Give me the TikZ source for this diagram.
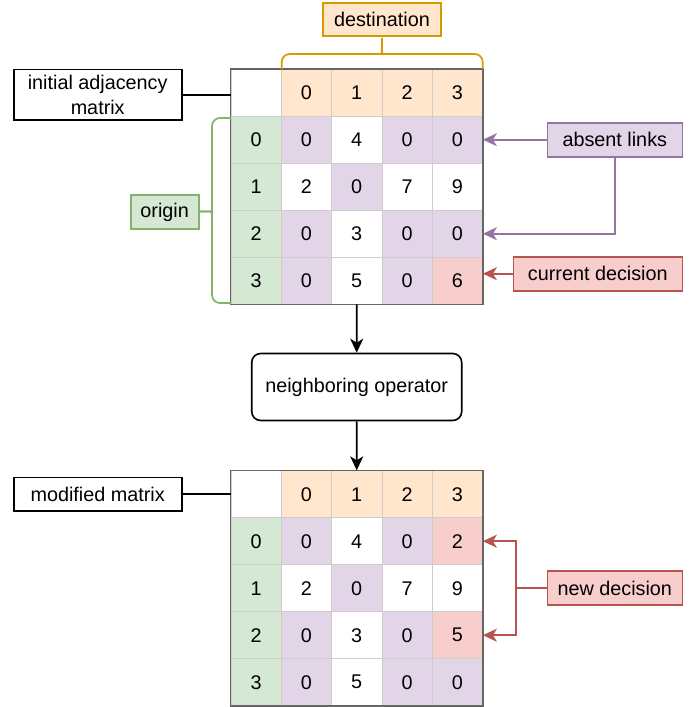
\documentclass[tikz,border=0pt]{standalone}
\usepackage{fontspec}
\setmainfont{Liberation Sans}
\usetikzlibrary{arrows.meta}
\definecolor{oF}{HTML}{FFE6CC}\definecolor{oD}{HTML}{D79B00}
\definecolor{gF}{HTML}{D5E8D4}\definecolor{gD}{HTML}{82B366}
\definecolor{pF}{HTML}{E1D5E7}\definecolor{pD}{HTML}{9673A6}
\definecolor{rF}{HTML}{F8CECC}\definecolor{rD}{HTML}{B85450}
\definecolor{cellline}{HTML}{D0CCCC}
\definecolor{outerline}{HTML}{666666}
\newcommand\mrow[4]{%
  \foreach \f/\t [count=\c from 0] in {#4} {
    \node[cell, fill=\f] (#1-#2-\c) at ({231+50.3*(\c+0.5)}, #3) {\t};
  }}
\begin{document}
\begin{tikzpicture}[x=1pt,y=-1pt,
  font=\fontsize{19.8}{24.5}\selectfont,
  cell/.style={draw=cellline, line width=0.8pt, minimum width=50.3pt, minimum height=46.9pt, inner sep=0pt, anchor=center},
  outer/.style={draw=outerline, line width=1.5pt},
  lbox/.style={draw, line width=1.6pt, inner sep=0pt, align=center},
  conn/.style={line width=1.6pt},
  tip/.style={-{Stealth[length=14pt,width=13pt,inset=4pt]}},
  brace/.style={line width=1.7pt, rounded corners=8pt}]
\useasboundingbox (0,0) rectangle (700,707);
% top matrix
\mrow{t}{0}{93.0}{white/{},oF/0,oF/1,oF/2,oF/3}
\mrow{t}{1}{139.9}{gF/0,pF/0,white/4,pF/0,pF/0}
\mrow{t}{2}{186.8}{gF/1,white/2,pF/0,white/7,white/9}
\mrow{t}{3}{233.7}{gF/2,pF/0,white/3,pF/0,pF/0}
\mrow{t}{4}{280.6}{gF/3,pF/0,white/5,pF/0,rF/6}
\draw[outer] (t-0-0.north west) rectangle (t-4-4.south east);
% bottom matrix
\mrow{b}{0}{494.2}{white/{},oF/0,oF/1,oF/2,oF/3}
\mrow{b}{1}{541.2}{gF/0,pF/0,white/4,pF/0,rF/2}
\mrow{b}{2}{588.2}{gF/1,white/2,pF/0,white/7,white/9}
\mrow{b}{3}{635.2}{gF/2,pF/0,white/3,pF/0,rF/5}
\mrow{b}{4}{682.2}{gF/3,pF/0,white/5,pF/0,pF/0}
\draw[outer] (b-0-0.north west) rectangle (b-4-4.south east);
% labels
\node[lbox, draw=oD, fill=oF, minimum width=118pt, minimum height=33pt] (dest) at (381.9,19.3) {destination};
\node[lbox, minimum width=168pt, minimum height=50.5pt] (init) at (97.7,94.7) {initial adjacency\\matrix};
\node[lbox, draw=gD, fill=gF, minimum width=68pt, minimum height=34pt] (orig) at (164.7,212.2) {origin};
\node[lbox, draw=pD, fill=pF, minimum width=135pt, minimum height=34pt] (abs) at (614.8,139.7) {absent links};
\node[lbox, draw=rD, fill=rF, minimum width=169pt, minimum height=34pt] (cur) at (597.8,273.7) {current decision};
\node[lbox, rounded corners=9pt, minimum width=210pt, minimum height=67pt] (op) at (356.7,387) {neighboring operator};
\node[lbox, minimum width=168pt, minimum height=33.5pt] (mod) at (97.7,494.2) {modified matrix};
\node[lbox, draw=rD, fill=rF, minimum width=135pt, minimum height=34pt] (nd) at (614.8,588) {new decision};
% braces
\draw[brace, draw=oD] (281.7,69) -- (281.7,54) -- (376,54) .. controls (381.9,54) .. (381.9,38);
\draw[brace, draw=oD] (482.7,69) -- (482.7,54) -- (388,54) .. controls (381.9,54) .. (381.9,38);
\draw[brace, draw=gD] (231,118) -- (212,118) -- (212,205) .. controls (212,211.5) .. (199,211.5);
\draw[brace, draw=gD] (231,303) -- (212,303) -- (212,218) .. controls (212,211.5) .. (199,211.5);
% connectors
\draw[conn] (init.east) -- (init.east -| t-0-0.west);
\draw[conn] (mod.east) -- (mod.east -| b-0-0.west);
\draw[conn, draw=pD, tip] (abs.west) -- (abs.west -| t-1-4.east);
\draw[conn, draw=pD, tip] (abs.south) |- (t-3-4.east);
\draw[conn, draw=rD, tip] (cur.west) -- (cur.west -| t-4-4.east);
\draw[conn, tip] (t-4-2.south) -- (op.north);
\draw[conn, tip] (op.south) -- (b-0-2.north);
\coordinate (ndj) at (516,588);
\draw[conn, draw=rD] (nd.west) -- (ndj);
\draw[conn, draw=rD, tip] (ndj) |- (b-1-4.east);
\draw[conn, draw=rD, tip] (ndj) |- (b-3-4.east);
\end{tikzpicture}
\end{document}
